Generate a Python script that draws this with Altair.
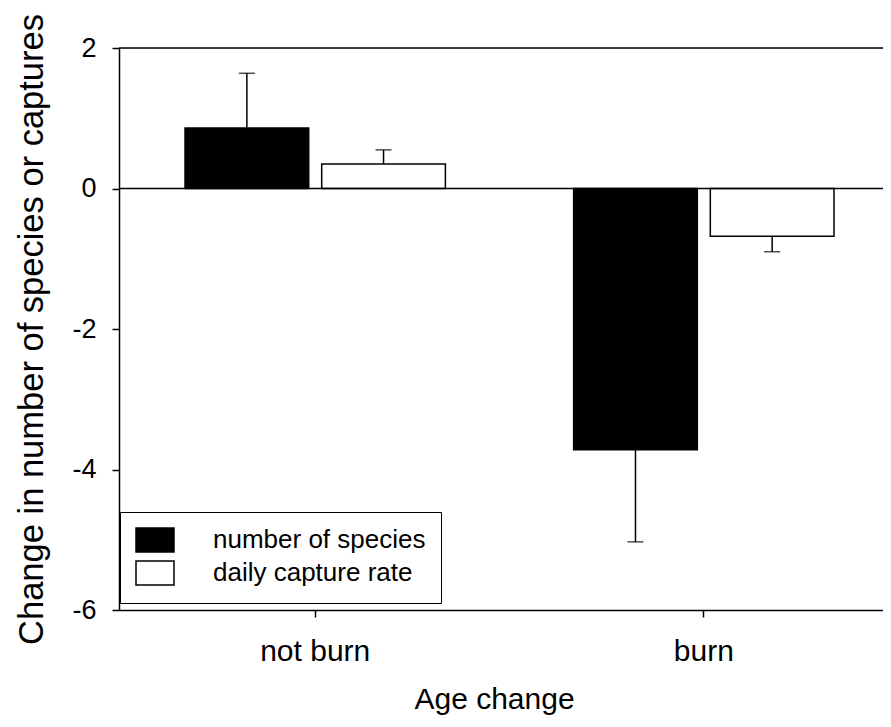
import altair as alt
import pandas as pd

groups = ["not burn", "not burn", "burn", "burn"]
series = ["number of species", "daily capture rate", "number of species", "daily capture rate"]
values = [0.86, 0.35, -3.72, -0.68]
err_ends = [1.64, 0.55, -5.03, -0.90]

group_order = ["not burn", "burn"]
series_order = ["number of species", "daily capture rate"]
y_ticks = [-6, -4, -2, 0, 2]
ref_lines = [0, 2]

FONT = "Liberation Sans"

df = pd.DataFrame({"group": groups, "series": series, "value": values, "err": err_ends})
ref = pd.DataFrame({"y": ref_lines})

xenc = alt.X("group:N", sort=group_order,
             scale=alt.Scale(paddingInner=0.33, paddingOuter=0.148, align=0.574),
             axis=alt.Axis(title="Age change", labelAngle=0, tickSize=7, labelPadding=19,
                           titlePadding=18, labelFontSize=30, titleFontSize=30, titleX=375,
                           domainColor="black", tickColor="black", labelColor="black",
                           titleColor="black", labelFont=FONT, titleFont=FONT,
                           titleFontWeight="normal", domainWidth=1.5, tickWidth=1.5))
xoff = alt.XOffset("series:N", sort=series_order, scale=alt.Scale(paddingInner=0.095, paddingOuter=0))
yscale = alt.Scale(domain=[-6, 2], nice=False, zero=False)

bars = alt.Chart(df).mark_bar(stroke="black", strokeWidth=1.5).encode(
    x=xenc,
    xOffset=xoff,
    y=alt.Y("value:Q", scale=yscale,
            axis=alt.Axis(title="Change in number of species or captures", values=y_ticks,
                          labelExpr="'' + datum.value",
                          grid=False, tickSize=7, labelPadding=16, titlePadding=22,
                          labelFontSize=27, titleFontSize=34.5, domainColor="black",
                          tickColor="black", labelColor="black", titleColor="black",
                          labelFont=FONT, titleFont=FONT, titleFontWeight="normal",
                          domainWidth=1.5, tickWidth=1.5)),
    fill=alt.Fill("series:N", sort=series_order,
                  scale=alt.Scale(domain=series_order, range=["black", "white"]),
                  legend=alt.Legend(title=None, orient="none", legendX=1, legendY=464,
                                    symbolType="M-1,-1L2.167,-1L2.167,1L-1,1Z",
                                    symbolSize=576, symbolStrokeColor="black",
                                    symbolStrokeWidth=1.5, labelFontSize=26, labelFont=FONT,
                                    labelColor="black", labelOffset=52, padding=15,
                                    rowPadding=3, strokeColor="black", fillColor="white",
                                    labelLimit=400)),
)

rules = alt.Chart(df).mark_rule(color="black", strokeWidth=1.5).encode(
    x=alt.X("group:N", sort=group_order), xOffset=alt.XOffset("series:N", sort=series_order),
    y="value:Q", y2="err:Q")

caps = alt.Chart(df).mark_tick(color="black", size=16, thickness=1.5).encode(
    x=alt.X("group:N", sort=group_order), xOffset=alt.XOffset("series:N", sort=series_order),
    y="err:Q")

lines = alt.Chart(ref).mark_rule(color="black", strokeWidth=1.5).encode(y="y:Q")

chart = alt.layer(bars, rules, caps, lines).properties(
    width=764, height=562,
    autosize=alt.AutoSizeParams(type="none"),
    padding={"left": 111, "top": 40, "right": 0, "bottom": 110},
).configure_view(stroke=None).configure(background="white")

chart.save("out.html", embed_options={"renderer": "svg", "actions": False})
